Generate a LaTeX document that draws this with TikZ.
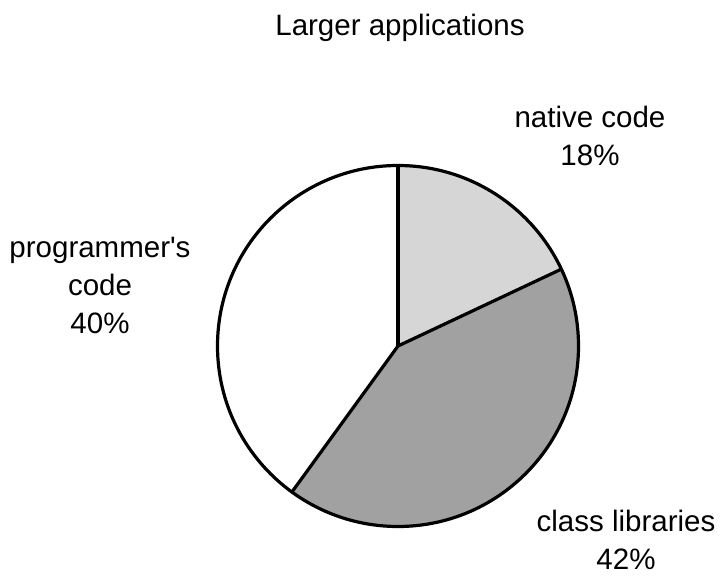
\documentclass[tikz,border=0pt]{standalone}
\usepackage{fontspec}
\setmainfont{Liberation Sans}
\newfontfamily\labelfont{Liberation Sans}
\begin{document}
\begin{tikzpicture}[x=1pt,y=1pt,
  lbl/.style={align=center,font=\labelfont\fontsize{29.5}{38}\selectfont,inner sep=0pt},
  edge/.style={line width=3.2pt,line join=round},
  lightslice/.style={fill=black!16},
  darkslice/.style={fill=black!37}]
\useasboundingbox (0,0) rectangle (722,575);
\def\R{180.5}
\coordinate (c) at (398,229);
% slices: native code 18%, class libraries 42%, programmer's code 40%
\fill[lightslice] (c) -- ++(90:\R) arc[start angle=90,end angle=25.2,radius=\R] -- cycle;
\fill[darkslice] (c) -- ++(25.2:\R) arc[start angle=25.2,end angle=-126,radius=\R] -- cycle;
\fill[white] (c) -- ++(-126:\R) arc[start angle=-126,end angle=-270,radius=\R] -- cycle;
% outline and dividers
\draw[edge] (c) circle[radius=\R];
\draw[edge] (c) -- ++(90:\R) coordinate (top);
\draw[edge] (c) -- ++(25.2:\R) coordinate (right);
\draw[edge] (c) -- ++(-126:\R) coordinate (low);
% labels
\node[lbl] (title) at (400,547) {Larger applications};
\node[lbl] (native) at (590,439) {native code\\18\%};
\node[lbl] (prog) at (100,290) {programmer's\\code\\40\%};
\node[lbl] (class) at (626,35) {class libraries\\42\%};
\end{tikzpicture}
\end{document}
